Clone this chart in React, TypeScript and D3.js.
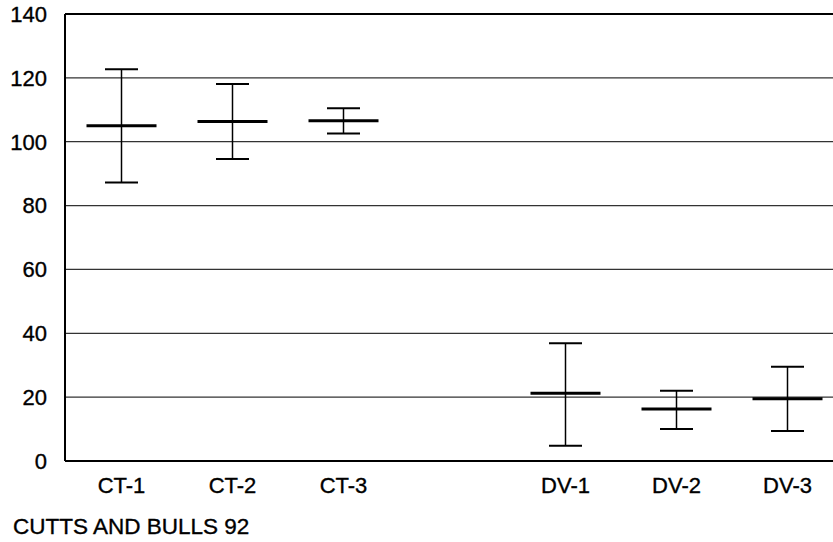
import React from "react";
import * as d3 from "d3";

// Group labels and the empty slot that separates the two groups
const slots = ["CT-1", "CT-2", "CT-3", "gap", "DV-1", "DV-2", "DV-3"];
const categories = ["CT-1", "CT-2", "CT-3", "DV-1", "DV-2", "DV-3"];
const means = [105, 106.3, 106.6, 21.2, 16.3, 19.5];
const upper = [122.7, 118.1, 110.5, 36.9, 22.0, 29.5];
const lower = [87.2, 94.6, 102.6, 4.8, 10.0, 9.4];
const yTicks = [0, 20, 40, 60, 80, 100, 120, 140];
const caption = "CUTTS AND BULLS 92";

const W = 833;
const H = 542;
const left = 65;
const top = 14;
const bottom = 461;
const FONT = "Liberation Sans, Arial, sans-serif";

export default function App() {
  const y = d3.scaleLinear().domain([0, 140]).range([bottom, top]);
  const x = d3.scaleBand().domain(slots).range([66, 66 + 7 * 111]);
  const cx = (c: string) => (x(c) as number) + x.bandwidth() / 2;

  const textStyle = {
    fontFamily: FONT,
    fill: "#000",
    stroke: "#000",
    strokeWidth: 0.35,
  };

  return (
    <svg
      width={W}
      height={H}
      style={{ position: "absolute", left: 0, top: 0, background: "#fff" }}
    >
      {/* horizontal grid */}
      {yTicks
        .filter((t) => t > 0 && t < 140)
        .map((t) => (
          <line
            key={"g" + t}
            x1={left}
            x2={W}
            y1={y(t)}
            y2={y(t)}
            stroke="#333"
            strokeWidth={1.2}
          />
        ))}
      {/* frame: top line, left axis, baseline */}
      <line x1={left} x2={W} y1={y(140)} y2={y(140)} stroke="#000" strokeWidth={2} />
      <line x1={left} x2={left} y1={y(140)} y2={y(0)} stroke="#000" strokeWidth={2} />
      <line x1={left} x2={W} y1={y(0)} y2={y(0)} stroke="#000" strokeWidth={2} />

      {/* y tick labels */}
      {yTicks.map((t) => (
        <text
          key={"t" + t}
          x={47}
          y={y(t)}
          dy="0.36em"
          textAnchor="end"
          fontSize={22}
          style={textStyle}
        >
          {t}
        </text>
      ))}

      {/* error bars with mean marks */}
      {categories.map((c, i) => {
        const px = cx(c);
        return (
          <g key={c}>
            <line x1={px} x2={px} y1={y(upper[i])} y2={y(lower[i])} stroke="#000" strokeWidth={1.5} />
            <line x1={px - 16.5} x2={px + 16.5} y1={y(upper[i])} y2={y(upper[i])} stroke="#000" strokeWidth={2} />
            <line x1={px - 16.5} x2={px + 16.5} y1={y(lower[i])} y2={y(lower[i])} stroke="#000" strokeWidth={2} />
            <line x1={px - 35} x2={px + 35} y1={y(means[i])} y2={y(means[i])} stroke="#000" strokeWidth={3} />
          </g>
        );
      })}

      {/* category labels */}
      {categories.map((c) => (
        <text
          key={"l" + c}
          x={cx(c)}
          y={493}
          textAnchor="middle"
          fontSize={22}
          style={textStyle}
        >
          {c}
        </text>
      ))}

      <text x={13} y={534} fontSize={22.5} style={textStyle}>
        {caption}
      </text>
    </svg>
  );
}
